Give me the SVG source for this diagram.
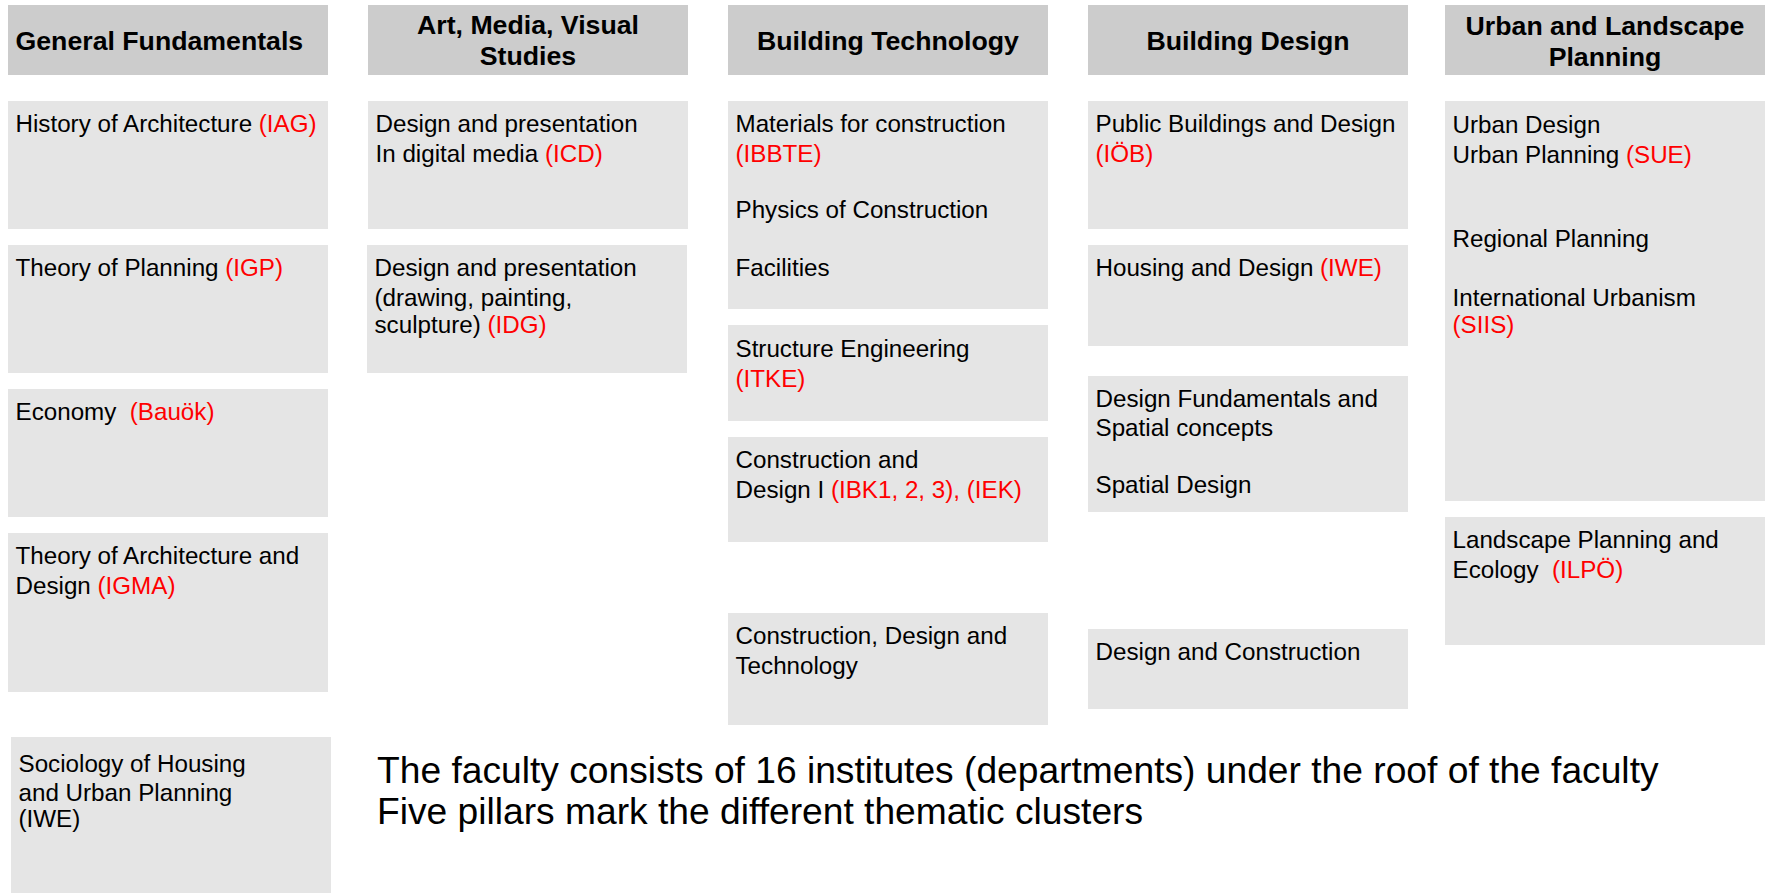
<svg xmlns="http://www.w3.org/2000/svg" width="1765" height="893" viewBox="0 0 1765 893">
<style>
.hd{fill:#cccccc}
.bx{fill:#e5e5e5}
.ht{font-family:"Liberation Sans",Arial,sans-serif;font-weight:bold;font-size:26.7px;fill:#000}
.c{text-anchor:middle}
.t{font-family:"Liberation Sans",Arial,sans-serif;font-size:24.2px;fill:#000}
.r{fill:#ff0000}
.big{font-family:"Liberation Sans",Arial,sans-serif;font-size:37.2px;fill:#000}
</style>
<rect width="1765" height="893" fill="#ffffff"/>
<g id="connectors"></g>

<g id="hdr-general"><rect class="hd" x="8" y="5" width="320" height="70"/><text class="ht" x="15.5" y="49.5">General Fundamentals</text></g>
<g id="hdr-art"><rect class="hd" x="368" y="5" width="320" height="70"/><text class="ht c" x="528" y="33.5">Art, Media, Visual</text><text class="ht c" x="528" y="64.5">Studies</text></g>
<g id="hdr-tech"><rect class="hd" x="728" y="5" width="320" height="70"/><text class="ht c" x="888" y="49.5">Building Technology</text></g>
<g id="hdr-design"><rect class="hd" x="1088" y="5" width="320" height="70"/><text class="ht c" x="1248" y="49.5">Building Design</text></g>
<g id="hdr-urban"><rect class="hd" x="1445" y="5" width="320" height="70"/><text class="ht c" x="1605" y="34.5">Urban and Landscape</text><text class="ht c" x="1605" y="66">Planning</text></g>

<g id="n-iag"><rect class="bx" x="8" y="101" width="320" height="128"/><text class="t" x="15.5" y="132">History of Architecture <tspan class="r">(IAG)</tspan></text></g>
<g id="n-igp"><rect class="bx" x="8" y="245" width="320" height="128"/><text class="t" x="15.5" y="276">Theory of Planning <tspan class="r">(IGP)</tspan></text></g>
<g id="n-bauoek"><rect class="bx" x="8" y="389" width="320" height="128"/><text class="t" x="15.5" y="420">Economy &#160;<tspan class="r">(Bauök)</tspan></text></g>
<g id="n-igma"><rect class="bx" x="8" y="533" width="320" height="159"/><text class="t" x="15.5" y="564">Theory of Architecture and</text><text class="t" x="15.5" y="594">Design <tspan class="r">(IGMA)</tspan></text></g>
<g id="n-soc"><rect class="bx" x="11" y="737" width="320" height="156"/><text class="t" x="18.5" y="772">Sociology of Housing</text><text class="t" x="18.5" y="800.5">and Urban Planning</text><text class="t" x="18.5" y="827">(IWE)</text></g>

<g id="n-icd"><rect class="bx" x="368" y="101" width="320" height="128"/><text class="t" x="375.5" y="132">Design and presentation</text><text class="t" x="375.5" y="162">In digital media <tspan class="r">(ICD)</tspan></text></g>
<g id="n-idg"><rect class="bx" x="367" y="245" width="320" height="128"/><text class="t" x="374.5" y="276">Design and presentation</text><text class="t" x="374.5" y="305.5">(drawing, painting,</text><text class="t" x="374.5" y="332.5">sculpture) <tspan class="r">(IDG)</tspan></text></g>

<g id="n-ibbte"><rect class="bx" x="728" y="101" width="320" height="208"/><text class="t" x="735.5" y="132">Materials for construction</text><text class="t r" x="735.5" y="162">(IBBTE)</text><text class="t" x="735.5" y="218">Physics of Construction</text><text class="t" x="735.5" y="276">Facilities</text></g>
<g id="n-itke"><rect class="bx" x="728" y="325" width="320" height="96"/><text class="t" x="735.5" y="356.5">Structure Engineering</text><text class="t r" x="735.5" y="386.5">(ITKE)</text></g>
<g id="n-ibk"><rect class="bx" x="728" y="437" width="320" height="105"/><text class="t" x="735.5" y="468">Construction and</text><text class="t" x="735.5" y="498">Design I <tspan class="r">(IBK1, 2, 3), (IEK)</tspan></text></g>
<g id="n-cdt"><rect class="bx" x="728" y="613" width="320" height="112"/><text class="t" x="735.5" y="644">Construction, Design and</text><text class="t" x="735.5" y="673.5">Technology</text></g>

<g id="n-ioeb"><rect class="bx" x="1088" y="101" width="320" height="128"/><text class="t" x="1095.5" y="132">Public Buildings and Design</text><text class="t r" x="1095.5" y="162">(IÖB)</text></g>
<g id="n-iwe"><rect class="bx" x="1088" y="245" width="320" height="101"/><text class="t" x="1095.5" y="276">Housing and Design <tspan class="r">(IWE)</tspan></text></g>
<g id="n-dfs"><rect class="bx" x="1088" y="376" width="320" height="136"/><text class="t" x="1095.5" y="407">Design Fundamentals and</text><text class="t" x="1095.5" y="436">Spatial concepts</text><text class="t" x="1095.5" y="492.5">Spatial Design</text></g>
<g id="n-dc"><rect class="bx" x="1088" y="629" width="320" height="80"/><text class="t" x="1095.5" y="659.5">Design and Construction</text></g>

<g id="n-sue"><rect class="bx" x="1445" y="101" width="320" height="400"/><text class="t" x="1452.5" y="132.5">Urban Design</text><text class="t" x="1452.5" y="162.5">Urban Planning <tspan class="r">(SUE)</tspan></text><text class="t" x="1452.5" y="247">Regional Planning</text><text class="t" x="1452.5" y="305.5">International Urbanism</text><text class="t r" x="1452.5" y="333">(SIIS)</text></g>
<g id="n-ilpoe"><rect class="bx" x="1445" y="517" width="320" height="128"/><text class="t" x="1452.5" y="548">Landscape Planning and</text><text class="t" x="1452.5" y="578">Ecology &#160;<tspan class="r">(ILPÖ)</tspan></text></g>

<g id="caption"><text class="big" x="377" y="783">The faculty consists of 16 institutes (departments) under the roof of the faculty</text><text class="big" x="377" y="824">Five pillars mark the different thematic clusters</text></g>
</svg>
